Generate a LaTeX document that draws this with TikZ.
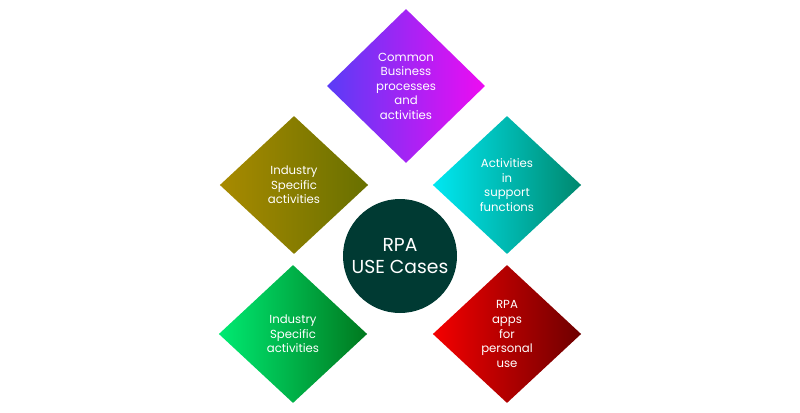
\documentclass[tikz,border=0pt]{standalone}
\usepackage{fontspec}
\setmainfont{Poppins}
\usetikzlibrary{shapes.geometric}

\definecolor{casecircle}{HTML}{003A33}
\definecolor{commonL}{HTML}{5A3CF6}
\definecolor{commonR}{HTML}{EE0CF2}
\definecolor{industryAL}{HTML}{A88A00}
\definecolor{industryAR}{HTML}{687000}
\definecolor{supportL}{HTML}{00E8F2}
\definecolor{supportR}{HTML}{00886E}
\definecolor{industryBL}{HTML}{00EA72}
\definecolor{industryBR}{HTML}{00781E}
\definecolor{personalL}{HTML}{F40000}
\definecolor{personalR}{HTML}{6E0000}

\begin{document}
\begin{tikzpicture}[x=0.03cm, y=-0.03cm,  % one unit is one pixel of the sketch
    usecase/.style={diamond, aspect=1, inner sep=0pt, text=white, align=center,
        font=\fontsize{10}{12.4}\selectfont,
        minimum width=4.45cm, minimum height=4.14cm}]
    % Fix the page size
    \useasboundingbox (0,0) rectangle (800,412);

    % Draw the five use case diamonds
    \node[usecase, left color=commonL, right color=commonR,
        minimum width=4.74cm, minimum height=4.62cm] (common) at (406,86)
        {Common\\Business\\processes\\and\\activities};
    \node[usecase, left color=industryAL, right color=industryAR] (industryA) at (294,185)
        {Industry\\Specific\\activities};
    \node[usecase, left color=supportL, right color=supportR] (support) at (507,185)
        {Activities\\in\\support\\functions};
    \node[usecase, left color=industryBL, right color=industryBR] (industryB) at (293,334)
        {Industry\\Specific\\activities};
    \node[usecase, left color=personalL, right color=personalR] (personal) at (507,334)
        {RPA\\apps\\for\\personal\\use};

    % Draw the centre circle
    \node[circle, fill=casecircle, text=white, align=center, inner sep=0pt,
        minimum size=3.42cm, font=\fontsize{16}{18.5}\selectfont] (rpa) at (400,256)
        {RPA\\USE Cases};
\end{tikzpicture}
\end{document}
